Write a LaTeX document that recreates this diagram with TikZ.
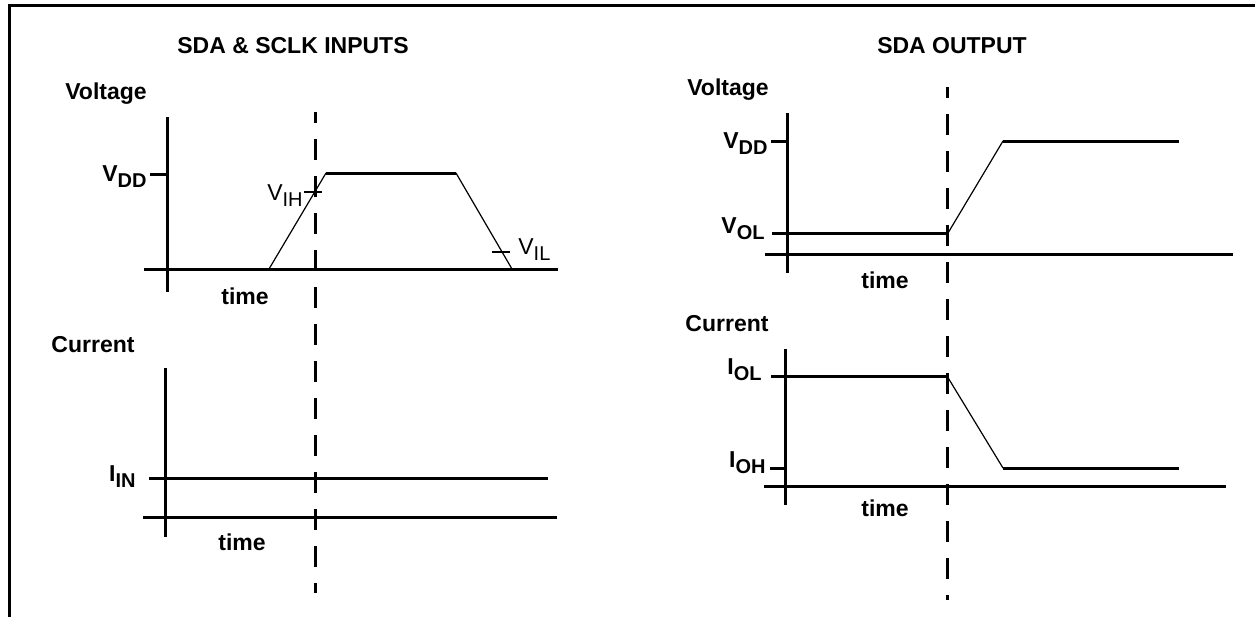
\documentclass[tikz,border=0pt]{standalone}
\usepackage{fontspec}
\setmainfont{Liberation Sans}
\newcommand{\sublbl}[2]{#1\raisebox{-3pt}{\fontsize{10}{10}\selectfont #2}}
\begin{document}
\begin{tikzpicture}[x=0.5pt,y=-0.5pt,
  axis/.style={line width=1.5pt},
  trace/.style={line width=1.5pt},
  slope/.style={line width=0.6pt},
  frameline/.style={line width=1.5pt},
  dashline/.style={line width=1.5pt,dash pattern=on 10.5pt off 8pt,dash phase=5pt},
  bold/.style={inner sep=0pt,font=\fontsize{11.5}{13}\selectfont\bfseries},
  plain/.style={inner sep=0pt,font=\fontsize{11.5}{13}\selectfont}]
\useasboundingbox (0,0) rectangle (1255,617);
% frame
\coordinate (fA) at (9,617); \coordinate (fB) at (9,5); \coordinate (fC) at (1255,5);
\draw[frameline] (fA) -- (fB) -- (fC);

% ===== Left: SDA & SCLK INPUTS =====
\node[bold,anchor=base] (t1) at (293,53) {SDA \& SCLK INPUTS};
\node[bold,anchor=base] (v1) at (106,99) {Voltage};
% voltage axes
\coordinate (va1) at (167,117); \coordinate (vb1) at (167,292);
\coordinate (ta1) at (144,269); \coordinate (tb1) at (558,269);
\draw[axis] (va1) -- (vb1);
\draw[axis] (ta1) -- (tb1);
\coordinate (vdd1a) at (150,174); \coordinate (vdd1b) at (167,174);
\draw[axis] (vdd1a) -- (vdd1b);
\node[bold,anchor=base east] (vddl1) at (147,181) {\sublbl{V}{DD}};
% waveform
\coordinate (w1) at (269,269); \coordinate (w2) at (326,173);
\coordinate (w3) at (456,173); \coordinate (w4) at (512,269);
\draw[slope] (w1) -- (w2);
\draw[trace] (w2) -- (w3);
\draw[slope] (w3) -- (w4);
% VIH / VIL ticks
\coordinate (ih1) at (304,192); \coordinate (ih2) at (322,192);
\draw[slope,line width=1pt] (ih1) -- (ih2);
\node[plain,anchor=base east] (vih) at (303,200) {\sublbl{V}{IH}};
\coordinate (il1) at (492,252); \coordinate (il2) at (510,252);
\draw[slope,line width=1pt] (il1) -- (il2);
\node[plain,anchor=base west] (vil) at (518,254) {\sublbl{V}{IL}};
\node[bold,anchor=base] (tm1) at (245,304) {time};
% current
\node[bold,anchor=base] (c1) at (93,352) {Current};
\coordinate (ia1) at (165,368); \coordinate (ib1) at (165,537);
\draw[axis] (ia1) -- (ib1);
\coordinate (in1) at (149,478); \coordinate (in2) at (548,478);
\draw[trace] (in1) -- (in2);
\node[bold,anchor=base east] (iinl) at (136,481) {\sublbl{I}{IN}};
\coordinate (tc1) at (143,517); \coordinate (td1) at (557,517);
\draw[axis] (tc1) -- (td1);
\node[bold,anchor=base] (tm2) at (242,550) {time};
% dashed
\coordinate (d1a) at (315,112); \coordinate (d1b) at (315,593);
\draw[dashline] (d1a) -- (d1b);

% ===== Right: SDA OUTPUT =====
\node[bold,anchor=base] (t2) at (952,53) {SDA OUTPUT};
\node[bold,anchor=base] (v2) at (728,95) {Voltage};
\coordinate (va2) at (787,113); \coordinate (vb2) at (787,273);
\draw[axis] (va2) -- (vb2);
\coordinate (ta2) at (765,254); \coordinate (tb2) at (1233,254);
\draw[axis] (ta2) -- (tb2);
\coordinate (vdd2a) at (771,141); \coordinate (vdd2b) at (787,141);
\draw[axis] (vdd2a) -- (vdd2b);
\node[bold,anchor=base east] (vddl2) at (768,148) {\sublbl{V}{DD}};
\coordinate (o1) at (772,233); \coordinate (o2) at (948,233);
\coordinate (o3) at (1003,141); \coordinate (o4) at (1179,141);
\draw[trace] (o1) -- (o2);
\draw[slope] (o2) -- (o3);
\draw[trace] (o3) -- (o4);
\node[bold,anchor=base east] (voll) at (765,233) {\sublbl{V}{OL}};
\node[bold,anchor=base] (tm3) at (885,288) {time};
% current
\node[bold,anchor=base] (c2) at (727,331) {Current};
\coordinate (ia2) at (785,349); \coordinate (ib2) at (785,505);
\draw[axis] (ia2) -- (ib2);
\coordinate (p1) at (771,376); \coordinate (p2) at (947,376);
\coordinate (p3) at (1003,468); \coordinate (p4) at (1179,468);
\draw[trace] (p1) -- (p2);
\draw[slope] (p2) -- (p3);
\draw[trace] (p3) -- (p4);
\node[bold,anchor=base east] (iol) at (762,374) {\sublbl{I}{OL}};
\coordinate (oh1) at (770,468); \coordinate (oh2) at (785,468);
\draw[axis] (oh1) -- (oh2);
\node[bold,anchor=base east] (ioh) at (766,467) {\sublbl{I}{OH}};
\coordinate (tc2) at (764,486); \coordinate (td2) at (1226,486);
\draw[axis] (tc2) -- (td2);
\node[bold,anchor=base] (tm4) at (885,516) {time};
% dashed
\coordinate (d2a) at (947,87); \coordinate (d2b) at (947,600);
\draw[dashline] (d2a) -- (d2b);
\end{tikzpicture}
\end{document}
